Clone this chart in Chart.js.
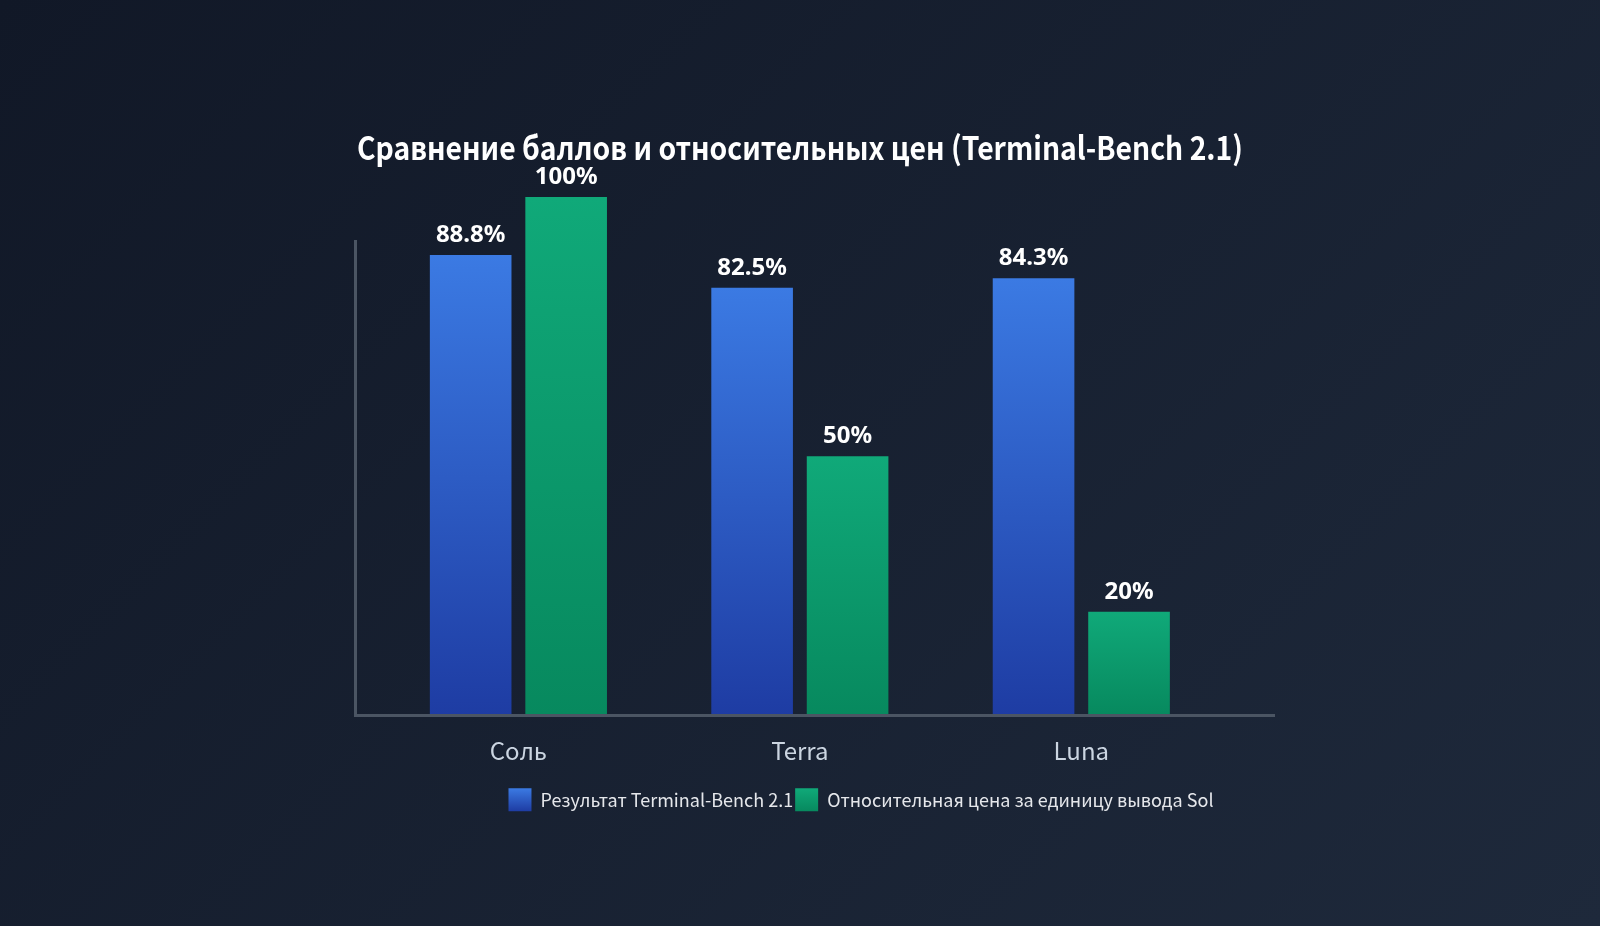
<!DOCTYPE html>
<html>
<head>
<meta charset="utf-8">
<script src="https://cdn.jsdelivr.net/npm/chart.js@4.4.1/dist/chart.umd.min.js"></script>
<style>
  html, body { margin: 0; padding: 0; width: 1600px; height: 926px; overflow: hidden;
    background: linear-gradient(135deg, #111827 0%, #1e293b 100%); }
  #wrap { position: relative; width: 1600px; height: 926px; }
</style>
</head>
<body>
<div id="wrap"><canvas id="myChart"></canvas></div>
<script>
// Datos de la gráfica
const categories = ['Соль', 'Terra', 'Luna'];
const scores = [88.8, 82.5, 84.3];   // Результат Terminal-Bench 2.1 (%)
const prices = [100, 50, 20];        // Относительная цена (%)
const seriesNames = ['Результат Terminal-Bench 2.1', 'Относительная цена за единицу вывода Sol'];
const titleText = 'Сравнение баллов и относительных цен (Terminal-Bench 2.1)';

// Colores (arriba / abajo del degradado)
const topColors = ['#3b7ae3', '#10a979'];
const bottomColors = ['#1e3ca3', '#07895e'];

// Degradado vertical por barra (de la parte superior de la barra hasta la base)
function barGradient(i) {
    return function (context) {
        const chart = context.chart;
        if (!chart.chartArea || context.type !== 'data') return bottomColors[i];
        const y = chart.scales.y;
        const yTop = y.getPixelForValue(context.raw.y);
        const yBase = y.getPixelForValue(0);
        if (!isFinite(yTop) || !isFinite(yBase)) return bottomColors[i];
        const g = chart.ctx.createLinearGradient(0, yTop, 0, yBase);
        g.addColorStop(0, topColors[i]);
        g.addColorStop(1, bottomColors[i]);
        return g;
    };
}

// Etiquetas de valor encima de cada barra
const valueLabels = {
    id: 'valueLabels',
    afterDatasetsDraw(chart) {
        const ctx = chart.ctx;
        ctx.save();
        ctx.font = 'bold 24px "Noto Sans", sans-serif';
        ctx.fillStyle = '#ffffff';
        ctx.textAlign = 'center';
        ctx.textBaseline = 'alphabetic';
        chart.data.datasets.forEach((ds, di) => {
            chart.getDatasetMeta(di).data.forEach((bar, i) => {
                ctx.fillText(ds.data[i].y + '%', bar.x, bar.y - 13);
            });
        });
        ctx.restore();
    }
};

// Caja del título (comprimido) y posición de la leyenda como en la imagen original
const boxTweaks = {
    id: 'boxTweaks',
    afterLayout(chart) {
        if (chart.titleBlock) {
            chart.titleBlock.left = 357;
            chart.titleBlock.right = 1243;
        }
        if (chart.legend) {
            chart.legend.left = 448;
        }
    }
};

const ctx = document.getElementById('myChart').getContext('2d');
const myChart = new Chart(ctx, {
    type: 'bar',
    data: {
        datasets: [{
            label: seriesNames[0],
            data: scores.map((v, i) => ({ x: i, y: v })),
            backgroundColor: barGradient(0),
            borderWidth: 0,
            clip: false
        }, {
            label: seriesNames[1],
            data: prices.map((v, i) => ({ x: i, y: v })),
            backgroundColor: barGradient(1),
            borderWidth: 0,
            clip: false
        }]
    },
    options: {
        responsive: true,
        maintainAspectRatio: false,
        animation: false,
        categoryPercentage: 0.6785,
        barPercentage: 0.855,
        layout: { padding: { left: 326, right: 326, top: 128.8, bottom: 104.7 } },
        scales: {
            x: {
                type: 'linear',
                min: -0.5806,
                max: 2.6847,
                offset: false,
                grid: { display: false, drawTicks: false },
                border: { display: true, color: '#4b5563', width: 3, z: 1 },
                afterBuildTicks: (scale) => { scale.ticks = categories.map((c, i) => ({ value: i })); },
                ticks: {
                    color: '#cbd5e1',
                    padding: 21,
                    maxRotation: 0,
                    autoSkip: false,
                    font: { family: '"Noto Sans CJK JP"', size: 24 },
                    callback: (v) => categories[v]
                }
            },
            y: {
                min: 0,
                max: 91.5,
                grid: { display: false, drawTicks: false },
                ticks: { display: false },
                border: { display: true, color: '#4b5563', width: 3, z: 1 },
                afterFit: (scale) => { scale.width = 29; }
            }
        },
        plugins: {
            title: {
                display: true,
                text: titleText,
                color: '#ffffff',
                font: { family: '"Noto Sans CJK JP"', size: 32, weight: 'bold' },
                padding: { top: 0, bottom: 73.8 }
            },
            legend: {
                position: 'bottom',
                labels: {
                    color: '#e5e7eb',
                    boxWidth: 23,
                    boxHeight: 23,
                    padding: 2,
                    font: { family: '"Noto Sans CJK JP"', size: 18 },
                    generateLabels: (chart) => {
                        const items = Chart.defaults.plugins.legend.labels.generateLabels(chart);
                        const top = chart.legend ? chart.legend.top : NaN;
                        items.forEach((it, i) => {
                            if (isFinite(top)) {
                                const g = chart.ctx.createLinearGradient(0, top + 2, 0, top + 25);
                                g.addColorStop(0, topColors[i]);
                                g.addColorStop(1, bottomColors[i]);
                                it.fillStyle = g;
                            } else {
                                it.fillStyle = bottomColors[i];
                            }
                            it.lineWidth = 0;
                        });
                        return items;
                    }
                }
            },
            tooltip: { enabled: false }
        }
    },
    plugins: [valueLabels, boxTweaks]
});
</script>
</body>
</html>
